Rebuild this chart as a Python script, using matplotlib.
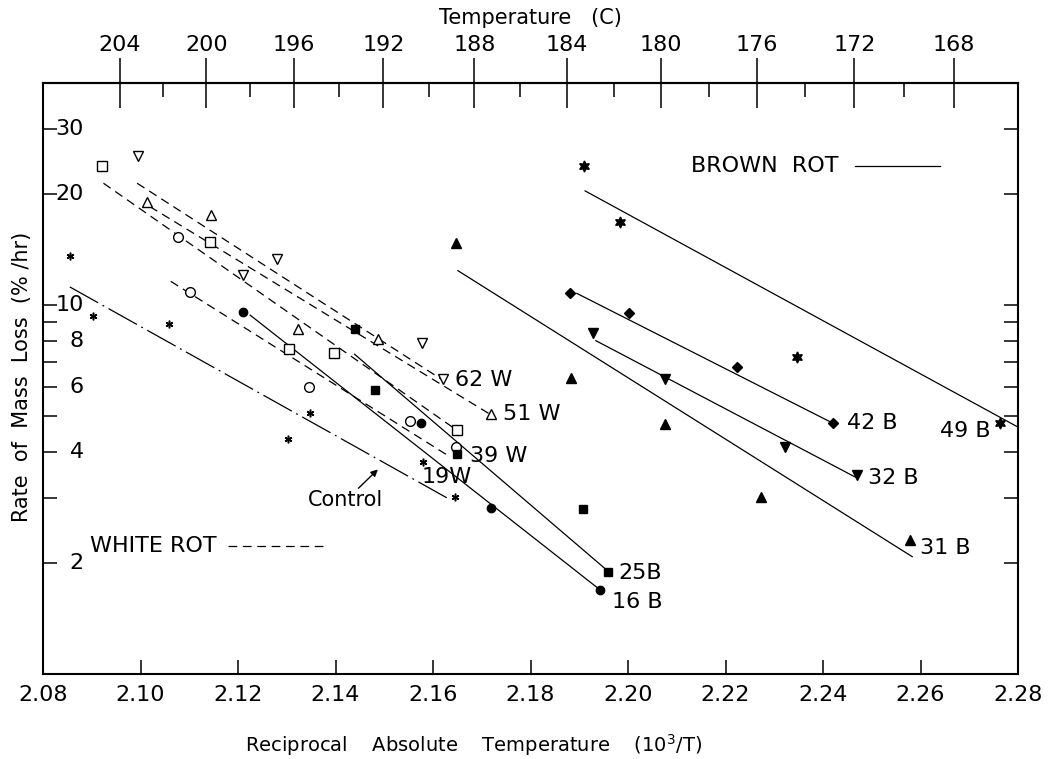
import matplotlib
matplotlib.use("Agg")
import matplotlib.pyplot as plt
from matplotlib.ticker import FixedLocator, NullFormatter
import matplotlib.transforms as mtrans

plt.rcParams['font.family'] = ['DejaVu Sans']

# axis ranges and ticks
x_lim = [2.08, 2.28]
y_lim = [1, 40]
x_ticks = [2.08, 2.10, 2.12, 2.14, 2.16, 2.18, 2.20, 2.22, 2.24, 2.26, 2.28]
x_ticklabels = ['2.08', '2.10', '2.12', '2.14', '2.16', '2.18', '2.20', '2.22', '2.24', '2.26', '2.28']
y_ticks = [2, 4, 6, 8, 10, 20, 30]
y_ticklabels = ['2', '4', '6', '8', '10', '20', '30']
y_minor = [3, 5, 7, 9]
top_ticks_c = [204, 200, 196, 192, 188, 184, 180, 176, 172, 168]
top_minor_c = [202, 198, 194, 190, 186, 182, 178, 174, 170]

# white rot (open markers, dashed fits)
w62_x = [2.0995, 2.1211, 2.1281, 2.1578, 2.1621]
w62_y = [25.4, 12.1, 13.3, 7.9, 6.3]
w62_fit_x = [2.0993, 2.1620]
w62_fit_y = [21.4, 6.26]

w51_x = [2.1014, 2.1144, 2.1324, 2.1487, 2.1718]
w51_y = [19.0, 17.6, 8.6, 8.1, 5.06]
w51_fit_x = [2.1019, 2.1717]
w51_fit_y = [18.5, 5.06]

w39_x = [2.0922, 2.1143, 2.1305, 2.1396, 2.1649]
w39_y = [23.8, 14.8, 7.6, 7.4, 4.58]
w39_fit_x = [2.0924, 2.1649]
w39_fit_y = [21.4, 4.58]

w19_x = [2.1076, 2.1102, 2.1346, 2.1553, 2.1647]
w19_y = [15.3, 10.85, 6.0, 4.86, 4.12]
w19_fit_x = [2.1062, 2.1632]
w19_fit_y = [11.6, 3.9]

# control (asterisks, dash-dot fit)
ctl_x = [2.0855, 2.0903, 2.1059, 2.1303, 2.1348, 2.1579, 2.1645]
ctl_y = [13.6, 9.35, 8.9, 4.33, 5.09, 3.75, 3.02]
ctl_fit_x = [2.0855, 2.1629]
ctl_fit_y = [11.2, 3.0]

# brown rot (filled markers, solid fits)
b25_x = [2.1439, 2.1482, 2.1649, 2.1907, 2.1959]
b25_y = [8.6, 5.9, 3.96, 2.80, 1.89]
b25_fit_x = [2.1439, 2.1955]
b25_fit_y = [7.36, 1.92]

b16_x = [2.1211, 2.1575, 2.1718, 2.1943]
b16_y = [9.55, 4.80, 2.81, 1.69]
b16_fit_x = [2.1225, 2.1938]
b16_fit_y = [9.39, 1.71]

b49_x = [2.1910, 2.1984, 2.2346, 2.2763]
b49_y = [23.9, 16.8, 7.24, 4.80]
b49_fit_x = [2.1912, 2.2800]
b49_fit_y = [20.4, 4.67]

b42_x = [2.1881, 2.2002, 2.2223, 2.2421]
b42_y = [10.76, 9.53, 6.78, 4.78]
b42_fit_x = [2.1895, 2.2421]
b42_fit_y = [10.76, 4.78]

b32_x = [2.1929, 2.2076, 2.2322, 2.2470]
b32_y = [8.38, 6.29, 4.13, 3.46]
b32_fit_x = [2.1934, 2.2466]
b32_fit_y = [8.01, 3.42]

b31_x = [2.1647, 2.1883, 2.2076, 2.2273, 2.2578]
b31_y = [14.7, 6.35, 4.75, 3.02, 2.31]
b31_fit_x = [2.1651, 2.2583]
b31_fit_y = [12.4, 2.08]

fig = plt.figure(figsize=(10.49, 7.59), dpi=100)
ax = fig.add_axes([43 / 1049, 1 - 674 / 759, 975 / 1049, 591 / 759])
ax.set_yscale('log')
ax.set_xlim(x_lim)
ax.set_ylim(y_lim)

lw = 0.9
dash = (0, (7, 4.5))
dashdot = (0, (26, 4, 1.5, 4))

# fits
for fx, fy in [(w62_fit_x, w62_fit_y), (w51_fit_x, w51_fit_y),
               (w39_fit_x, w39_fit_y), (w19_fit_x, w19_fit_y)]:
    ax.plot(fx, fy, color='black', lw=lw, linestyle=dash)
ax.plot(ctl_fit_x, ctl_fit_y, color='black', lw=lw, linestyle=dashdot)
for fx, fy in [(b25_fit_x, b25_fit_y), (b16_fit_x, b16_fit_y), (b49_fit_x, b49_fit_y),
               (b42_fit_x, b42_fit_y), (b32_fit_x, b32_fit_y), (b31_fit_x, b31_fit_y)]:
    ax.plot(fx, fy, color='black', lw=lw)

# points
ax.plot(w62_x, w62_y, 'v', ms=7.5, mfc='white', mec='black', mew=1.0, ls='none')
ax.plot(w51_x, w51_y, '^', ms=7.5, mfc='white', mec='black', mew=1.0, ls='none')
ax.plot(w39_x, w39_y, 's', ms=6.5, mfc='white', mec='black', mew=1.0, ls='none')
ax.plot(w19_x, w19_y, 'o', ms=7, mfc='white', mec='black', mew=1.0, ls='none')
ax.plot(ctl_x, ctl_y, marker=(6, 2, 0), ms=5.5, mec='black', mew=1.1, ls='none')
ax.plot(b25_x, b25_y, 's', ms=6, color='black', ls='none')
ax.plot(b16_x, b16_y, 'o', ms=6, color='black', ls='none')
ax.plot(b49_x, b49_y, marker=(6, 1, 0), ms=8, color='black', ls='none')
ax.plot(b42_x, b42_y, 'D', ms=5, color='black', ls='none')
ax.plot(b32_x, b32_y, 'v', ms=7, color='black', ls='none')
ax.plot(b31_x, b31_y, '^', ms=7, color='black', ls='none')

# curve labels
lab = dict(fontsize=16, ha='left', va='center')
ax.text(2.1645, 6.26, '62 W', **lab)
ax.text(2.1744, 5.06, '51 W', **lab)
ax.text(2.1676, 3.90, '39 W', **lab)
ax.text(2.1577, 3.42, '19W', **lab)
ax.text(2.1980, 1.88, '25B', **lab)
ax.text(2.1967, 1.57, '16 B', **lab)
ax.text(2.2449, 4.80, '42 B', **lab)
ax.text(2.2640, 4.55, '49 B', **lab)
ax.text(2.2492, 3.39, '32 B', **lab)
ax.text(2.2599, 2.19, '31 B', **lab)
ax.text(2.1343, 2.96, 'Control', fontsize=15, ha='left', va='center')
ax.annotate('', xy=(2.1491, 3.63), xytext=(2.1443, 3.15),
            arrowprops=dict(arrowstyle='-|>', color='black', lw=1, mutation_scale=10))

ax.text(2.0896, 2.22, 'WHITE ROT', fontsize=16, ha='left', va='center')
ax.plot([2.1180, 2.1378], [2.22, 2.22], color='black', lw=lw, linestyle=dash)
ax.text(2.2129, 23.8, 'BROWN  ROT', fontsize=16, ha='left', va='center')
ax.plot([2.2466, 2.2640], [23.8, 23.8], color='black', lw=lw)

# bottom axis
ax.set_xticks(x_ticks)
ax.set_xticklabels(x_ticklabels, fontsize=16)
ax.tick_params(axis='x', direction='in', length=10, width=1.1, pad=8, top=False)

# left / right axis, labels drawn inside
ax.yaxis.set_major_locator(FixedLocator(y_ticks))
ax.yaxis.set_minor_locator(FixedLocator(y_minor))
ax.yaxis.set_major_formatter(NullFormatter())
ax.yaxis.set_minor_formatter(NullFormatter())
ax.tick_params(axis='y', which='both', direction='in', length=10, width=1.1,
               left=True, right=True)
blend = mtrans.blended_transform_factory(ax.transAxes, ax.transData)
for v, t in zip(y_ticks, y_ticklabels):
    ax.text(0.042, v, t, transform=blend, fontsize=16, ha='right', va='center')

for s in ax.spines.values():
    s.set_linewidth(1.5)

# top axis in Celsius
top = ax.secondary_xaxis('top', functions=(lambda x: 1000.0 / x - 273.15,
                                           lambda c: 1000.0 / (c + 273.15)))
top.set_xticks(top_ticks_c)
top.set_xticklabels([str(c) for c in top_ticks_c], fontsize=16)
top.xaxis.set_minor_locator(FixedLocator(top_minor_c))
top.tick_params(axis='x', which='major', direction='inout', length=36, width=1.1, pad=2)
top.tick_params(axis='x', which='minor', direction='in', length=10, width=1.1)
top.spines['top'].set_linewidth(1.5)
top.set_xlabel('Temperature   (C)', fontsize=15, labelpad=8)

fig.text(474 / 1049, 1 - 745 / 759, r'Reciprocal    Absolute    Temperature    (10$^3$/T)',
         fontsize=14, ha='center', va='center')
fig.text(22 / 1049, 1 - 377 / 759, 'Rate  of  Mass  Loss  (% /hr)', rotation=90,
         fontsize=15, ha='center', va='center')

fig.savefig('out.png', dpi=100)
